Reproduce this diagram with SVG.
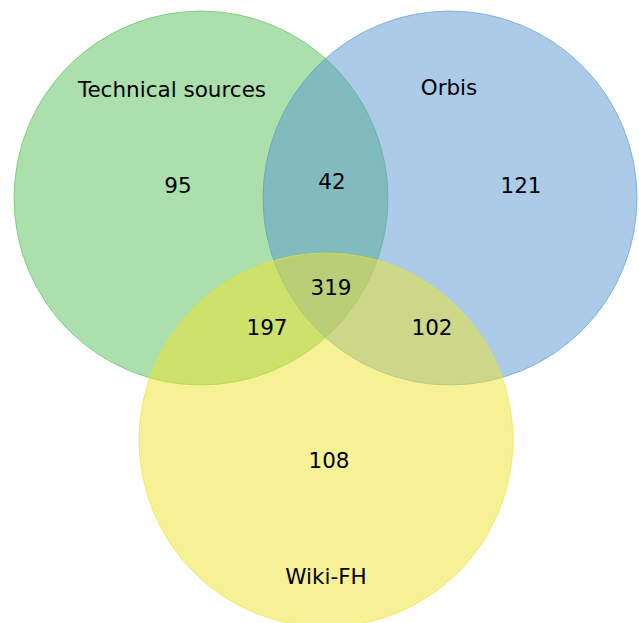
<svg xmlns="http://www.w3.org/2000/svg" width="639" height="623" viewBox="0 0 639 623">
<style>
text{font-family:"DejaVu Sans","Liberation Sans",sans-serif;font-size:21.5px;fill:#000;text-anchor:middle;dominant-baseline:central}
.c{fill-opacity:0.5;stroke-width:1;stroke-opacity:0.6}
</style>
<rect width="639" height="623" fill="#fff"/>
<g id="technical"><circle class="c" cx="201" cy="198" r="187" fill="#57BF57" stroke="#57BF57"/></g>
<g id="orbis"><circle class="c" cx="450" cy="198" r="187" fill="#5797D1" stroke="#5797D1"/></g>
<g id="wiki"><circle class="c" cx="326" cy="440" r="187" fill="#EFE32B" stroke="#EFE32B"/></g>
<g id="labels">
<text x="172" y="89">Technical sources</text>
<text x="449" y="87">Orbis</text>
<text x="326" y="576">Wiki-FH</text>
<text x="178" y="185">95</text>
<text x="332" y="181">42</text>
<text x="521" y="185">121</text>
<text x="331" y="287">319</text>
<text x="267" y="327">197</text>
<text x="432" y="327">102</text>
<text x="329" y="460">108</text>
</g>
</svg>
